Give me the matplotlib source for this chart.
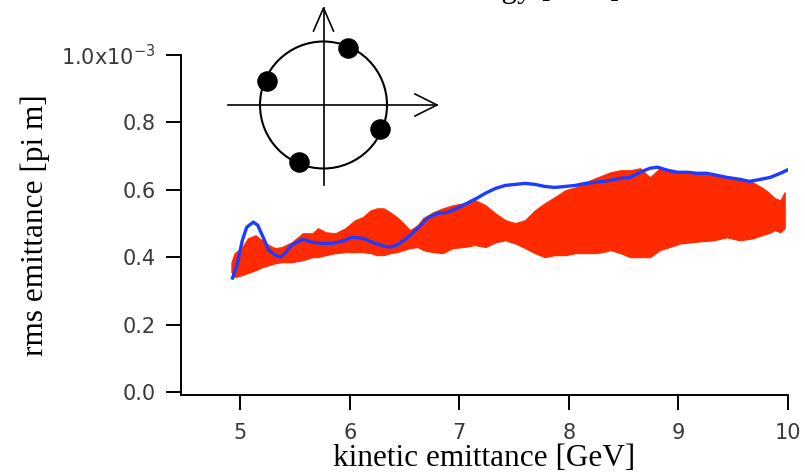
import numpy as np
import matplotlib
matplotlib.use("Agg")
import matplotlib.pyplot as plt
from matplotlib.patches import Circle

# ---- data (emittance in units of 1e-3 pi m) ----
red_x = [4.92, 4.95, 5.02, 5.07, 5.14, 5.20, 5.26, 5.32, 5.38, 5.47,
         5.57, 5.66, 5.71, 5.78, 5.87, 5.96, 6.05, 6.12, 6.19, 6.25,
         6.31, 6.37, 6.43, 6.49, 6.55, 6.62, 6.67, 6.76, 6.85, 6.94,
         7.04, 7.14, 7.24, 7.33, 7.42, 7.51, 7.60, 7.69, 7.78, 7.87,
         7.97, 8.06, 8.15, 8.24, 8.31, 8.38, 8.47, 8.56, 8.65, 8.74,
         8.83, 8.92, 9.02, 9.11, 9.20, 9.32, 9.44, 9.56, 9.68, 9.76,
         9.82, 9.88, 9.93, 9.97]
red_upper = [0.385, 0.412, 0.430, 0.456, 0.465, 0.450, 0.436, 0.427, 0.430, 0.444,
             0.471, 0.471, 0.486, 0.474, 0.471, 0.486, 0.510, 0.519, 0.539, 0.545,
             0.545, 0.533, 0.519, 0.501, 0.480, 0.495, 0.516, 0.533, 0.545, 0.554,
             0.560, 0.570, 0.554, 0.530, 0.510, 0.501, 0.510, 0.539, 0.560, 0.578,
             0.599, 0.607, 0.622, 0.634, 0.643, 0.652, 0.658, 0.658, 0.664, 0.637,
             0.664, 0.658, 0.652, 0.649, 0.649, 0.643, 0.637, 0.634, 0.622, 0.607,
             0.593, 0.575, 0.569, 0.593]
red_lower = [0.356, 0.341, 0.347, 0.353, 0.361, 0.370, 0.376, 0.382, 0.385, 0.385,
             0.391, 0.400, 0.400, 0.406, 0.412, 0.415, 0.415, 0.415, 0.412, 0.406,
             0.406, 0.412, 0.415, 0.421, 0.427, 0.430, 0.421, 0.415, 0.412, 0.427,
             0.430, 0.436, 0.430, 0.444, 0.450, 0.441, 0.427, 0.412, 0.400, 0.406,
             0.406, 0.412, 0.412, 0.412, 0.415, 0.421, 0.412, 0.400, 0.400, 0.400,
             0.421, 0.430, 0.441, 0.444, 0.447, 0.450, 0.459, 0.450, 0.456, 0.465,
             0.471, 0.480, 0.474, 0.486]

blue_x = [4.93, 4.97, 5.02, 5.06, 5.12, 5.16, 5.21, 5.26, 5.32, 5.37,
          5.41, 5.47, 5.57, 5.66, 5.75, 5.84, 5.93, 6.02, 6.12, 6.21,
          6.31, 6.37, 6.43, 6.52, 6.62, 6.71, 6.80, 6.89, 6.98, 7.07,
          7.16, 7.24, 7.33, 7.42, 7.51, 7.60, 7.69, 7.78, 7.87, 7.97,
          8.06, 8.15, 8.24, 8.31, 8.38, 8.47, 8.56, 8.65, 8.74, 8.81,
          8.90, 8.99, 9.08, 9.17, 9.26, 9.35, 9.44, 9.56, 9.65, 9.75,
          9.84, 9.93, 9.99]
blue_y = [0.338, 0.376, 0.450, 0.489, 0.504, 0.495, 0.459, 0.421, 0.406, 0.400,
          0.412, 0.436, 0.453, 0.444, 0.441, 0.441, 0.447, 0.459, 0.456, 0.444,
          0.433, 0.430, 0.436, 0.456, 0.486, 0.516, 0.530, 0.533, 0.545, 0.560,
          0.575, 0.590, 0.604, 0.613, 0.616, 0.619, 0.616, 0.610, 0.607, 0.610,
          0.613, 0.619, 0.622, 0.625, 0.628, 0.634, 0.637, 0.652, 0.664, 0.667,
          0.658, 0.652, 0.652, 0.649, 0.649, 0.643, 0.637, 0.631, 0.625, 0.631,
          0.637, 0.649, 0.658]

x_ticks = [5, 6, 7, 8, 9, 10]
y_ticks = [0.0, 0.2, 0.4, 0.6, 0.8, 1.0]
y_ticklabels = ["0.0", "0.2", "0.4", "0.6", "0.8", "1.0x10$^{-3}$"]

# phase-space sketch: particle phases (degrees)
phase_deg = [67, 157, 247, 337]

W, H = 805, 474
fig = plt.figure(figsize=(W / 100, H / 100), dpi=100)
ax = fig.add_axes([181 / W, (H - 395) / H, (788 - 181) / W, (395 - 55) / H])

red = "#ff2a00"
blue = "#1e3cff"
ax.fill_between(red_x, red_lower, red_upper, color=red, linewidth=0.8, zorder=2)
ax.plot(blue_x, blue_y, color=blue, linewidth=2.4, zorder=3)

ax.set_xlim(4.46, 10.0)
ax.set_ylim(-0.009, 1.0)
ax.set_xticks(x_ticks)
ax.set_xticklabels([str(t) for t in x_ticks])
ax.set_yticks(y_ticks)
ax.set_yticklabels(y_ticklabels)
for s in ["top", "right"]:
    ax.spines[s].set_visible(False)
for s in ["left", "bottom"]:
    ax.spines[s].set_linewidth(1.4)
ax.tick_params(direction="out", length=11, width=1.4, labelsize=15,
               labelcolor="#3a3a3a")
ax.tick_params(axis="x", pad=9)
ax.tick_params(axis="y", pad=7)
for lab in ax.get_xticklabels() + ax.get_yticklabels():
    lab.set_family("DejaVu Sans")

serif = ["Liberation Serif", "DejaVu Serif"]
ax.set_xlabel("kinetic emittance [GeV]", fontsize=22.5, family=serif)
ax.xaxis.set_label_coords(0.5, (395 - 458) / 340)
ax.xaxis.label.set_va("center")
ax.set_ylabel("rms emittance [pi m]", fontsize=22.5, family=serif)
ax.yaxis.set_label_coords((35 - 181) / 607, 0.5)
ax.yaxis.label.set_va("center")

# clipped title at the very top edge (only its lowest part shows)
fig.text(488 / W, 1 + 2.5 / H, "kinetic energy [GeV]", ha="center", va="baseline",
         fontsize=22.5, family=serif)

# ---- inset phase-space sketch (pixel coordinates overlay) ----
ov = fig.add_axes([0, 0, 1, 1], zorder=5)
ov.set_xlim(0, W)
ov.set_ylim(H, 0)
ov.axis("off")
ov.patch.set_alpha(0)
cx, cy, r = 323.5, 105, 63.5
ov.add_patch(Circle((cx, cy), r, fill=False, edgecolor="black", linewidth=1.5))
ov.plot([228, 437], [cy, cy], color="black", linewidth=1.2)
ov.plot([415, 437, 415], [cy - 11, cy, cy + 11], color="black", linewidth=1.2)
ov.plot([cx, cx], [185, 8], color="black", linewidth=1.2)
ov.plot([cx - 10, cx, cx + 10], [31, 8, 31], color="black", linewidth=1.2)
ang = np.deg2rad(phase_deg)
ov.scatter(cx + (r - 2) * np.cos(ang), cy - (r - 2) * np.sin(ang), s=190,
           color="black", zorder=6)

fig.savefig("out.png", dpi=100)
